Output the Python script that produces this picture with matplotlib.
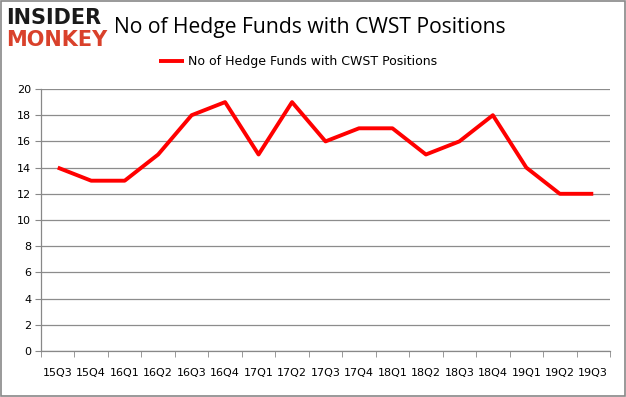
import matplotlib
matplotlib.use("Agg")
import matplotlib.pyplot as plt
from matplotlib.patches import Rectangle

quarters = ["15Q3", "15Q4", "16Q1", "16Q2", "16Q3", "16Q4", "17Q1", "17Q2", "17Q3",
            "17Q4", "18Q1", "18Q2", "18Q3", "18Q4", "19Q1", "19Q2", "19Q3"]
funds = [14, 13, 13, 15, 18, 19, 15, 19, 16, 17, 17, 15, 16, 18, 14, 12, 12]
yticks = [0, 2, 4, 6, 8, 10, 12, 14, 16, 18, 20]
series_name = "No of Hedge Funds with CWST Positions"
title = "No of Hedge Funds with CWST Positions"

fig = plt.figure(figsize=(6.26, 3.97), dpi=100)
fig.patch.set_facecolor("white")
fig.add_artist(Rectangle((0.0015, 0.002), 0.997, 0.995, transform=fig.transFigure,
                         fill=False, edgecolor="#888888", linewidth=1.2))

ax = fig.add_axes([41/626, 1 - 351/397, (610-41)/626, (351-89)/397])
x = list(range(len(quarters)))
ax.plot(x, funds, color="#ff0000", linewidth=2.8, label=series_name, solid_capstyle="butt")
ax.set_xlim(-0.5, len(quarters) - 0.5)
ax.set_ylim(0, 20)
ax.set_yticks(yticks)
ax.set_yticklabels([str(v) for v in yticks], fontsize=8, family="DejaVu Sans")
ax.set_xticks(x)
ax.set_xticklabels(quarters, fontsize=8, family="DejaVu Sans")
ax.set_xticks([i - 0.5 for i in range(len(quarters) + 1)], minor=True)
ax.tick_params(axis="x", which="major", length=0, pad=12)
ax.tick_params(axis="x", which="minor", length=4, color="#888888", direction="out")
ax.tick_params(axis="y", length=4, color="#888888", direction="out", pad=3)
ax.grid(axis="y", color="#8c8c8c", linewidth=0.9)
ax.set_axisbelow(True)
for s in ["top", "right"]:
    ax.spines[s].set_visible(False)
for s in ["left", "bottom"]:
    ax.spines[s].set_color("#888888")
    ax.spines[s].set_linewidth(0.9)

fig.text(114/626, 1 - 27/397, title, fontsize=15.2, family="Open Sans",
         va="center", ha="left", color="black")
fig.text(6/626, 1 - 18/397, "INSIDER", fontsize=15, fontweight="bold", family="DejaVu Sans",
         va="center", ha="left", color="#1a1a1a")
fig.text(6/626, 1 - 40/397, "MONKEY", fontsize=15, fontweight="bold", family="DejaVu Sans",
         va="center", ha="left", color="#d9412b")

leg = ax.legend(loc="center", bbox_to_anchor=(298/626, 1 - 62/397), bbox_transform=fig.transFigure,
                frameon=False, fontsize=9, handlelength=2.0, handletextpad=0.3)

fig.savefig("out.png", dpi=100)
